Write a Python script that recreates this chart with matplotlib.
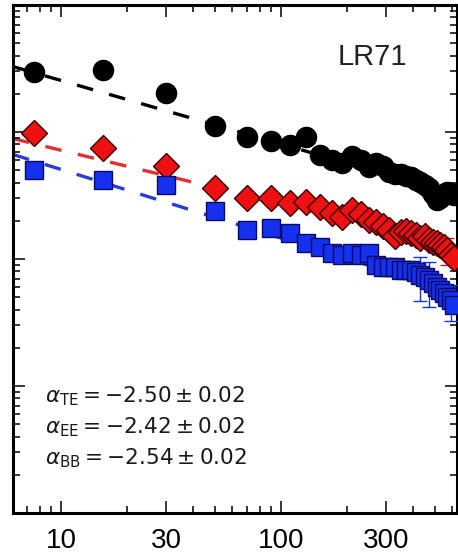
import numpy as np
import matplotlib
matplotlib.use('Agg')
import matplotlib.pyplot as plt
from matplotlib.ticker import FixedLocator, LogLocator, NullFormatter, FixedFormatter

# Multipole bins
ell = [7.5, 15.5, 30, 50, 70, 90, 110, 130, 150, 170, 190, 210, 230, 250,
       270, 290, 310, 330, 350, 370, 390, 410, 430, 450, 470, 490, 510, 530,
       550, 570, 590, 610]

# Spectra (arbitrary units)
te = [2.97, 3.08, 2.03, 1.115, 0.913, 0.849, 0.790, 0.913, 0.659, 0.602,
      0.570, 0.647, 0.602, 0.530, 0.570, 0.540, 0.484, 0.467, 0.467, 0.450,
      0.442, 0.419, 0.404, 0.383, 0.362, 0.325, 0.291, 0.302, 0.325, 0.337,
      0.331, 0.319]
ee = [0.982, 0.748, 0.540, 0.362, 0.302, 0.302, 0.276, 0.281, 0.257, 0.230,
      0.214, 0.243, 0.226, 0.203, 0.196, 0.182, 0.169, 0.152, 0.163, 0.166,
      0.160, 0.155, 0.146, 0.152, 0.141, 0.136, 0.134, 0.129, 0.124, 0.118,
      0.108, 0.102]
bb = [0.502, 0.419, 0.383, 0.239, 0.169, 0.175, 0.160, 0.134, 0.124, 0.1115,
      0.1075, 0.1115, 0.1075, 0.1115, 0.0897, 0.0865, 0.0865, 0.0865, 0.0819,
      0.0819, 0.0819, 0.0790, 0.0748, 0.0722, 0.0684, 0.0647, 0.0602, 0.0570,
      0.0540, 0.0502, 0.0476, 0.0434]

te_err = [0.12, 0.12, 0.08, 0.05, 0.04, 0.03, 0.03, 0.03, 0.025, 0.025, 0.02,
          0.02, 0.02, 0.02, 0.02, 0.02, 0.02, 0.02, 0.02, 0.02, 0.02, 0.02,
          0.02, 0.02, 0.02, 0.02, 0.02, 0.02, 0.02, 0.02, 0.02, 0.02]
ee_err = [0.05, 0.04, 0.03, 0.02, 0.015, 0.015, 0.014, 0.014, 0.013, 0.012,
          0.011, 0.012, 0.011, 0.010, 0.010, 0.010, 0.009, 0.009, 0.009, 0.009,
          0.009, 0.009, 0.009, 0.009, 0.009, 0.009, 0.009, 0.009, 0.009, 0.028,
          0.009, 0.009]
bb_err = [0.04, 0.03, 0.03, 0.02, 0.015, 0.015, 0.014, 0.012, 0.011, 0.010,
          0.010, 0.010, 0.010, 0.010, 0.009, 0.009, 0.009, 0.009, 0.009, 0.009,
          0.009, 0.009, 0.028, 0.008, 0.0265, 0.008, 0.007, 0.007, 0.007, 0.006,
          0.015, 0.006]

# Power-law fits: amplitude at ell=80 and index alpha (plotted slope alpha+2)
amp = {'TE': 0.90, 'EE': 0.30, 'BB': 0.165}
alpha = {'TE': -2.50, 'EE': -2.42, 'BB': -2.54}
alpha_err = {'TE': 0.02, 'EE': 0.02, 'BB': 0.02}

xticks = [10, 30, 100, 300]
field = 'LR71'

plt.rcParams['mathtext.fontset'] = 'dejavusans'

fig = plt.figure(figsize=(4.58, 5.54), dpi=100)
ax = fig.add_axes([13/458, 1-513/554, 443.5/458, 508/554])
ax.set_xscale('log')
ax.set_yscale('log')
ax.set_xlim(6.05, 628)
ax.set_ylim(1e-3, 10)

lgrid = np.logspace(np.log10(6.05), np.log10(628), 200)
styles = {'TE': ('black', 'k', 'o', 14.5, 'k'),
          'EE': ('#e23030', '#ee1111', 'D', 13, '#3a0000'),
          'BB': ('#2a3cd8', '#1530ee', 's', 13.5, '#0a0a60')}
data = {'TE': (te, te_err), 'EE': (ee, ee_err), 'BB': (bb, bb_err)}

for k in ['TE', 'EE', 'BB']:
    lc = styles[k][0]
    ax.plot(lgrid, amp[k] * (lgrid / 80.0) ** (alpha[k] + 2), color=lc,
            lw=2.4, dashes=(5, 5), zorder=1)

for i, k in enumerate(['TE', 'EE', 'BB']):
    lc, fc, mk, ms, ec = styles[k]
    y, yerr = data[k]
    ax.errorbar(ell, y, yerr=yerr, fmt=mk, ms=ms, mfc=fc, mec=ec, mew=1.0,
                ecolor=fc, elinewidth=1.0, capsize=5, capthick=1.2,
                zorder=3 + i)

ax.xaxis.set_major_locator(FixedLocator(xticks))
ax.xaxis.set_major_formatter(FixedFormatter([str(t) for t in xticks]))
minor_x = [7, 8, 9, 20, 40, 50, 60, 70, 80, 90, 200, 400, 500, 600]
ax.xaxis.set_minor_locator(FixedLocator(minor_x))
ax.xaxis.set_minor_formatter(NullFormatter())
ax.yaxis.set_major_locator(LogLocator(base=10, numticks=10))
ax.yaxis.set_minor_locator(LogLocator(base=10, subs=np.arange(2, 10), numticks=20))
ax.yaxis.set_minor_formatter(NullFormatter())

ax.tick_params(which='both', direction='in', top=True, right=True,
               labelleft=False, width=1.1)
ax.tick_params(which='major', length=8.5, pad=11)
ax.tick_params(which='minor', length=5)
for lab in ax.get_xticklabels():
    lab.set_family(['Liberation Sans Narrow', 'DejaVu Sans Condensed', 'Liberation Sans'])
    lab.set_fontsize(20)
for s in ax.spines.values():
    s.set_linewidth(2.2)

fig.text(338/458, 1-65/554, field, fontsize=21, family=['Liberation Sans', 'DejaVu Sans'],
         va='baseline', ha='left', color='#222222')

ys = [402, 433, 464]
for k, yp in zip(['TE', 'EE', 'BB'], ys):
    s = r'$\alpha_{\rm %s} = %.2f \pm %.2f$' % (k, alpha[k], alpha_err[k])
    fig.text(45/458, 1-yp/554, s, fontsize=15.5, va='baseline', ha='left',
             color='#1a1a1a')

fig.savefig('out.png', dpi=100)
